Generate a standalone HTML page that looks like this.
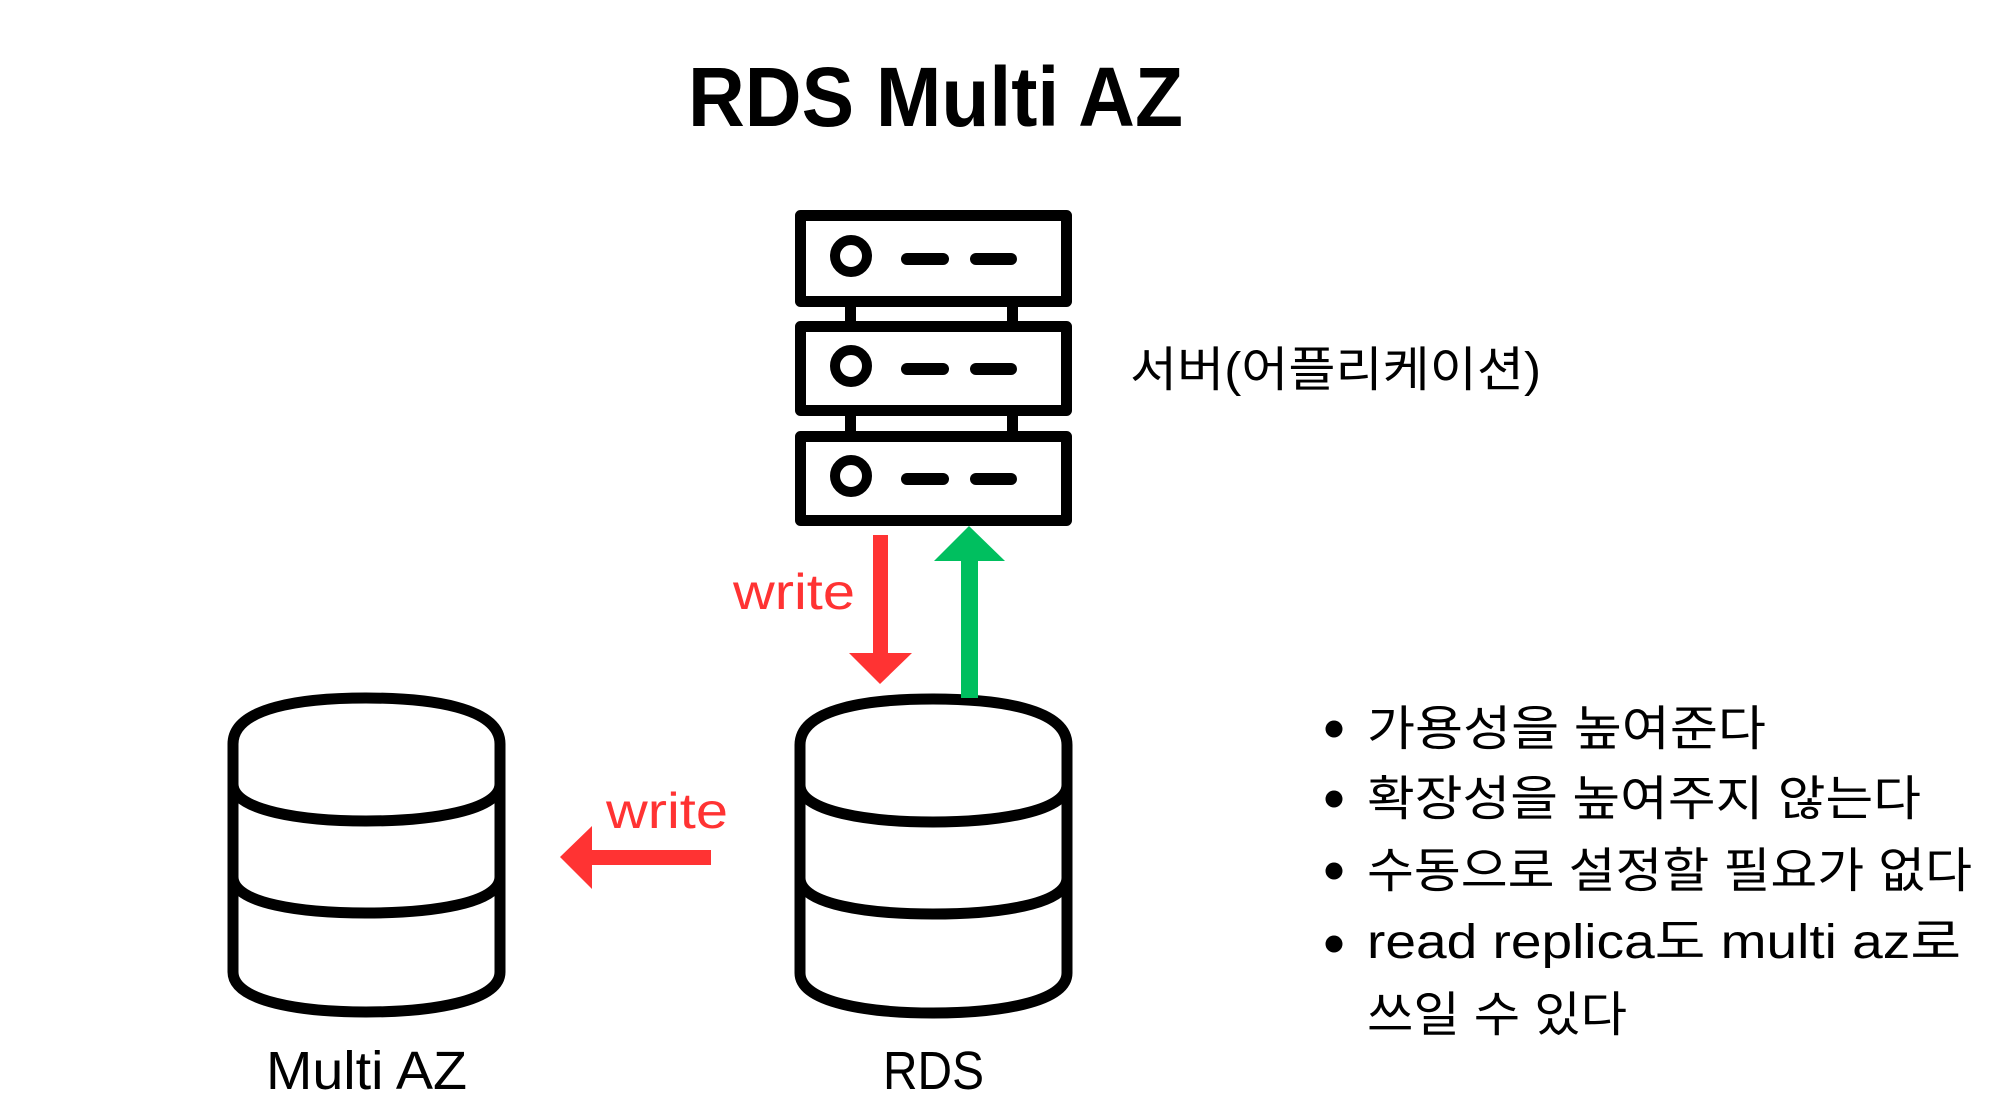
<!DOCTYPE html>
<html><head><meta charset="utf-8"><style>
html,body{margin:0;padding:0;background:#fff;}
svg{display:block}
</style></head><body>
<svg width="2000" height="1119" viewBox="0 0 2000 1119" xmlns="http://www.w3.org/2000/svg">
<rect width="2000" height="1119" fill="#fff"/>
<text x="688" y="126" font-family="Liberation Sans, sans-serif" font-weight="bold" font-size="84" textLength="495" lengthAdjust="spacingAndGlyphs" fill="#000">RDS Multi AZ</text>

<!-- server -->
<g fill="none" stroke="#000" stroke-width="11" stroke-linejoin="round">
<rect x="800.5" y="215.5" width="266" height="86"/>
<rect x="800.5" y="326.5" width="266" height="84"/>
<rect x="800.5" y="436.5" width="266" height="84"/>
<circle cx="851" cy="256" r="16" stroke-width="10"/>
<circle cx="851" cy="366" r="16" stroke-width="10"/>
<circle cx="851" cy="476" r="16" stroke-width="10"/>
</g>
<g fill="#000">
<rect x="845" y="306" width="11" height="20"/><rect x="1007" y="306" width="11" height="20"/>
<rect x="845" y="415" width="11" height="21"/><rect x="1007" y="415" width="11" height="21"/>
<rect x="901" y="253" width="48" height="12" rx="6"/><rect x="970" y="253" width="47" height="12" rx="6"/>
<rect x="901" y="363" width="48" height="12" rx="6"/><rect x="970" y="363" width="47" height="12" rx="6"/>
<rect x="901" y="473" width="48" height="12" rx="6"/><rect x="970" y="473" width="47" height="12" rx="6"/>
</g>
<text x="1130" y="386" font-family="Liberation Sans, 'Noto Sans CJK KR', sans-serif" font-size="48" textLength="411" lengthAdjust="spacingAndGlyphs" fill="#000">서버(어플리케이션)</text>

<!-- arrows -->
<rect x="873" y="535" width="15" height="120" fill="#ff3333"/>
<polygon points="849,653 912,653 880,684" fill="#ff3333"/>
<rect x="961" y="559" width="17" height="140" fill="#00bf5f"/>
<polygon points="934,561 1005,561 969,526" fill="#00bf5f"/>
<text x="733" y="609" font-family="Liberation Sans, sans-serif" font-size="50" textLength="122" lengthAdjust="spacingAndGlyphs" fill="#ff3333">write</text>

<rect x="590" y="850" width="121" height="15" fill="#ff3333"/>
<polygon points="560,857 592,826 592,889" fill="#ff3333"/>
<text x="606" y="828" font-family="Liberation Sans, sans-serif" font-size="50" textLength="122" lengthAdjust="spacingAndGlyphs" fill="#ff3333">write</text>

<!-- cylinders -->
<g id="cyl" fill="none" stroke="#000" stroke-width="11" stroke-linecap="round">
<path d="M800,745 C800,708 870,699 933,699 C996,699 1067,708 1067,745 L1067,973 C1067,1003 996,1013 933,1013 C870,1013 800,1003 800,973 Z"/>
<path d="M800,785 C800,812 870,822 933,822 C996,822 1067,812 1067,785"/>
<path d="M800,878 C800,905 870,914 933,914 C996,914 1067,905 1067,878"/>
</g>
<g transform="translate(-567,-1)">
<use href="#cyl"/>
</g>
<rect x="961" y="690" width="17" height="8" fill="#00bf5f"/>

<text x="266" y="1089" font-family="Liberation Sans, sans-serif" font-size="54" textLength="201" lengthAdjust="spacingAndGlyphs" fill="#000">Multi AZ</text>
<text x="883" y="1089" font-family="Liberation Sans, sans-serif" font-size="54" textLength="101" lengthAdjust="spacingAndGlyphs" fill="#000">RDS</text>

<!-- bullets -->
<g fill="#000">
<circle cx="1334" cy="729" r="8.5"/>
<circle cx="1334" cy="799" r="8.5"/>
<circle cx="1334" cy="871" r="8.5"/>
<circle cx="1334" cy="944" r="8.5"/>
</g>
<g font-family="Liberation Sans, 'Noto Sans CJK KR', sans-serif" font-size="48" fill="#000">
<text x="1367" y="745" textLength="399" lengthAdjust="spacingAndGlyphs">가용성을 높여준다</text>
<text x="1367" y="815" textLength="554" lengthAdjust="spacingAndGlyphs">확장성을 높여주지 않는다</text>
<text x="1367" y="887" textLength="605" lengthAdjust="spacingAndGlyphs">수동으로 설정할 필요가 없다</text>
<text x="1367" y="958" textLength="594" lengthAdjust="spacingAndGlyphs">read replica도 multi az로</text>
<text x="1367" y="1031" textLength="260" lengthAdjust="spacingAndGlyphs">쓰일 수 있다</text>
</g>
</svg>
</body></html>
